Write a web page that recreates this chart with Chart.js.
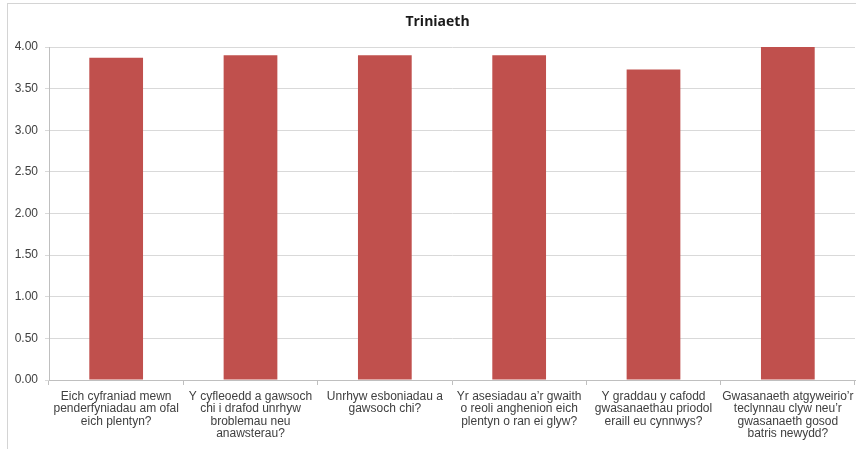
<!DOCTYPE html>
<html>
<head>
<meta charset="utf-8">
<script src="https://cdn.jsdelivr.net/npm/chart.js@4"></script>
<style>
  html, body { margin: 0; padding: 0; background: #fff; overflow: hidden; width: 856px; height: 449px; }
  #frame { position: absolute; left: 7px; top: 3px; width: 900px; height: 500px; border: 1px solid #d4d4d4; box-sizing: border-box; }
  #c { position: absolute; left: 0; top: 0; }
</style>
</head>
<body>
<div id="frame"></div>
<canvas id="c" width="875" height="449"></canvas>
<script>
const chartTitle = "Triniaeth";
const categories = [
  ["Eich cyfraniad mewn", "penderfyniadau am ofal", "eich plentyn?"],
  ["Y cyfleoedd a gawsoch", "chi i drafod unrhyw", "broblemau neu", "anawsterau?"],
  ["Unrhyw esboniadau a", "gawsoch chi?"],
  ["Yr asesiadau a\u2019r gwaith", "o reoli anghenion eich", "plentyn o ran ei glyw?"],
  ["Y graddau y cafodd", "gwasanaethau priodol", "eraill eu cynnwys?"],
  ["Gwasanaeth atgyweirio\u2019r", "teclynnau clyw neu\u2019r", "gwasanaeth gosod", "batris newydd?"]
];
const values = [3.87, 3.90, 3.90, 3.90, 3.73, 4.00];
const yMin = 0, yMax = 4, yStep = 0.5;

const textColor = '#404040';
const gridColor = '#d9d9d9';
const axisColor = '#bfbfbf';

// Title drawn as canvas text, centred on the full (wider, cropped) chart frame
const titlePlugin = {
  id: 'frameTitle',
  afterDraw(chart) {
    const ctx = chart.ctx;
    ctx.save();
    ctx.font = 'bold 14px "Open Sans"';
    ctx.fillStyle = '#1a1a1a';
    ctx.textAlign = 'center';
    ctx.textBaseline = 'middle';
    ctx.fillText(chartTitle, 437.5, 22);
    ctx.restore();
  }
};

new Chart(document.getElementById('c'), {
  type: 'bar',
  data: {
    labels: categories,
    datasets: [{
      data: values,
      backgroundColor: '#c0504d',
      borderWidth: 0,
      categoryPercentage: 1.0,
      barPercentage: 0.4
    }]
  },
  plugins: [titlePlugin],
  options: {
    responsive: false,
    animation: false,
    devicePixelRatio: 1,
    layout: { padding: { left: 0, right: 20, top: 47, bottom: 0 } },
    plugins: {
      legend: { display: false },
      tooltip: { enabled: false },
      title: { display: false }
    },
    scales: {
      x: {
        offset: true,
        grid: { display: true, drawOnChartArea: false, drawTicks: true, tickLength: 5, color: axisColor, offset: true },
        border: { display: true, color: axisColor },
        ticks: {
          color: textColor,
          font: { family: 'Liberation Sans', size: 12, lineHeight: 1.05 },
          padding: 5,
          maxRotation: 0,
          autoSkip: false
        },
        afterFit: (s) => { s.height = 69; }
      },
      y: {
        min: yMin,
        max: yMax,
        grid: { color: gridColor, tickLength: 4, drawTicks: true },
        border: { display: true, color: axisColor },
        ticks: {
          stepSize: yStep,
          color: textColor,
          font: { family: 'Liberation Sans', size: 12 },
          padding: 7,
          callback: (v) => Number(v).toFixed(2)
        },
        afterFit: (s) => { s.width = 49; }
      }
    }
  }
});
</script>
</body>
</html>
